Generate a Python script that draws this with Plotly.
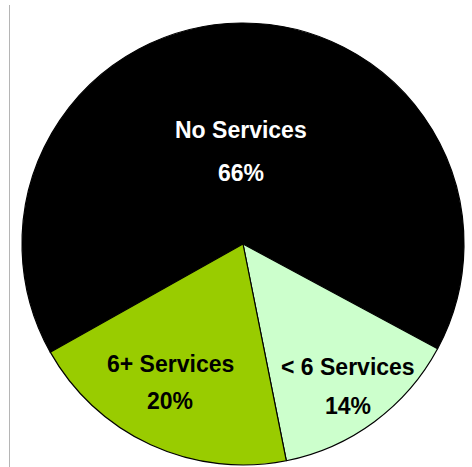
import math
import plotly.graph_objects as go

# ---- data ----
labels = ["No Services", "< 6 Services", "6+ Services"]
values = [66, 14, 20]
pct_text = ["66%", "14%", "20%"]
colors = ["#000000", "#CCFFCC", "#99CC00"]
text_colors = ["#FFFFFF", "#000000", "#000000"]

# ---- layout params ----
W, H = 472, 467
CX, CY, R = 243, 244, 221          # pie centre / radius in px
ROTATION = -119.3                   # clockwise direction start angle
label_rfrac = [0.42, 0.80, 0.69]    # label distance from centre (fraction of R)
label_gap = [43, 39, 37]            # px between label line and percent line
label_dx = [-1, 0, -9]              # small horizontal nudge (px)
FONT = "Liberation Sans, Arial, Helvetica, sans-serif"
FS = 23

fig = go.Figure(go.Pie(
    labels=labels,
    values=values,
    sort=False,
    direction="clockwise",
    rotation=ROTATION,
    marker=dict(colors=colors, line=dict(color="#000000", width=1.2)),
    textinfo="none",
    hoverinfo="label+percent",
    showlegend=False,
    domain=dict(x=[(CX - R) / W, (CX + R) / W],
                y=[1 - (CY + R) / H, 1 - (CY - R) / H]),
))

# labels positioned along each slice's bisector (computed from the data)
total = sum(values)
start = ROTATION  # degrees clockwise from 12 o'clock
annotations = []
for i, v in enumerate(values):
    span = 360.0 * v / total
    mid = math.radians(start + span / 2)
    start += span
    r = label_rfrac[i] * R
    px = CX + r * math.sin(mid) + label_dx[i]
    py = CY - r * math.cos(mid)
    for txt, dy in ((labels[i], -label_gap[i] / 2), (pct_text[i], label_gap[i] / 2)):
        annotations.append(dict(
            x=px / W, y=1 - (py + dy) / H, xref="paper", yref="paper",
            text="<b>" + txt.replace("<", "&lt;") + "</b>", showarrow=False,
            xanchor="center", yanchor="middle",
            font=dict(family=FONT, size=FS, color=text_colors[i]),
        ))

fig.update_layout(
    width=W, height=H,
    margin=dict(l=0, r=0, t=0, b=0),
    paper_bgcolor="white",
    plot_bgcolor="white",
    annotations=annotations,
    shapes=[dict(type="line", xref="paper", yref="paper",
                 x0=9.5 / W, x1=9.5 / W, y0=0, y1=1 - 5 / H,
                 line=dict(color="#B5B5B5", width=1))],
)

fig.write_html("out.html")
